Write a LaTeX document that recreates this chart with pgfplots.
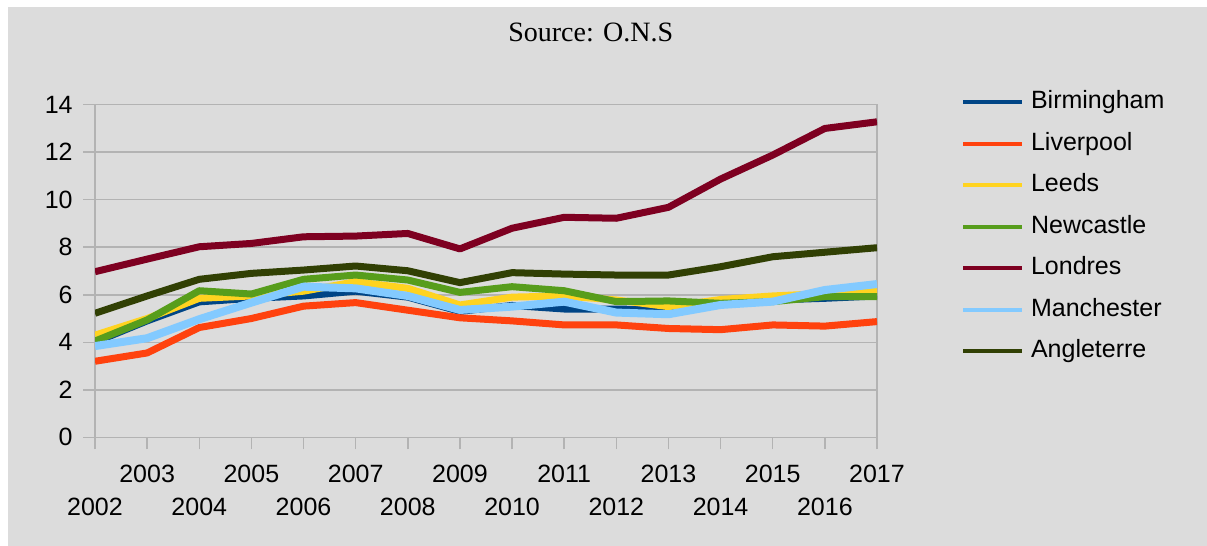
\documentclass[border=0pt]{standalone}
\usepackage{pgfplots}
\pgfplotsset{compat=1.18}
\usepackage{fontspec}
\setmainfont{Liberation Sans}
\newfontfamily\seriffont{Liberation Serif}
\definecolor{bg}{HTML}{DCDCDC}
\definecolor{gridc}{HTML}{B3B3B3}
\definecolor{cbir}{HTML}{004586}
\definecolor{cliv}{HTML}{FF420E}
\definecolor{clee}{HTML}{FFD320}
\definecolor{cnew}{HTML}{579D1C}
\definecolor{clon}{HTML}{7E0021}
\definecolor{cman}{HTML}{83CAFF}
\definecolor{cang}{HTML}{314004}
\begin{document}
\begin{tikzpicture}
\fill[white] (-47.5pt,-54.35pt) rectangle (556pt,218.65pt);
\fill[bg] (-43.5pt,-54.35pt) rectangle (556pt,215.15pt);
\begin{axis}[
  at={(0,0)}, anchor=south west,
  scale only axis, width=391pt, height=166.3pt,
  xmin=2002, xmax=2017, ymin=0, ymax=14,
  axis line style={gridc, line width=0.75pt},
  tick style={gridc, line width=0.75pt},
  tick align=outside, major tick length=6pt,
  xtick pos=lower, ytick pos=left,
  ytick={0,2,...,14},
  ymajorgrids, grid style={gridc, line width=0.75pt},
  xtick={2003,2005,2007,2009,2011,2013,2015,2017},
  xticklabels={2003,2005,2007,2009,2011,2013,2015,2017},
  extra x ticks={2002,2004,2006,2008,2010,2012,2014,2016},
  extra x tick labels={2002,2004,2006,2008,2010,2012,2014,2016},
  extra x tick style={xticklabel style={yshift=-16.5pt}},
  /pgf/number format/assume math mode=true,
  ticklabel style={font=\fontsize{12.5}{15}\selectfont},
  yticklabel style={inner sep=0pt, xshift=-5pt},
  xticklabel style={inner sep=0pt, yshift=-7.5pt},
  title={\seriffont\fontsize{14}{16}\selectfont Source: O.N.S},
  title style={at={(0.634,1.1825)}, anchor=center},
  legend style={at={(1.107,1.049)}, anchor=north west, draw=none, fill=none,
    inner sep=0pt, row sep=7.25pt, column sep=2.5pt,
    font=\fontsize{12.5}{15}\selectfont,
    nodes={text height=9pt, text depth=2.5pt, inner sep=1pt}},
  legend cell align=left,
  legend image code/.code={\draw[#1, line width=2pt] (0pt,0pt) -- (29.5pt,0pt);},
  every axis plot/.append style={line width=3.5pt, line join=round},
]
\addplot[cbir] coordinates {(2002,4.0)(2003,4.9)(2004,5.7)(2005,5.85)(2006,5.95)(2007,6.15)(2008,5.9)(2009,5.3)(2010,5.55)(2011,5.4)(2012,5.4)(2013,5.35)(2014,5.65)(2015,5.78)(2016,5.85)(2017,5.95)};
\addlegendentry{Birmingham}
\addplot[cliv] coordinates {(2002,3.2)(2003,3.55)(2004,4.62)(2005,5.0)(2006,5.52)(2007,5.67)(2008,5.35)(2009,5.03)(2010,4.9)(2011,4.73)(2012,4.73)(2013,4.58)(2014,4.53)(2015,4.73)(2016,4.68)(2017,4.87)};
\addlegendentry{Liverpool}
\addplot[clee] coordinates {(2002,4.3)(2003,5.0)(2004,5.85)(2005,5.95)(2006,6.15)(2007,6.55)(2008,6.27)(2009,5.57)(2010,5.9)(2011,5.95)(2012,5.78)(2013,5.5)(2014,5.8)(2015,5.95)(2016,6.05)(2017,6.16)};
\addlegendentry{Leeds}
\addplot[cnew] coordinates {(2002,4.05)(2003,4.94)(2004,6.17)(2005,6.03)(2006,6.65)(2007,6.83)(2008,6.62)(2009,6.1)(2010,6.34)(2011,6.17)(2012,5.71)(2013,5.74)(2014,5.64)(2015,5.71)(2016,5.92)(2017,5.92)};
\addlegendentry{Newcastle}
\addplot[clon] coordinates {(2002,6.97)(2003,7.5)(2004,8.02)(2005,8.16)(2006,8.44)(2007,8.47)(2008,8.58)(2009,7.93)(2010,8.8)(2011,9.26)(2012,9.22)(2013,9.68)(2014,10.87)(2015,11.88)(2016,13.0)(2017,13.28)};
\addlegendentry{Londres}
\addplot[cman, line width=4pt] coordinates {(2002,3.84)(2003,4.17)(2004,4.97)(2005,5.67)(2006,6.34)(2007,6.27)(2008,5.95)(2009,5.36)(2010,5.5)(2011,5.71)(2012,5.25)(2013,5.18)(2014,5.57)(2015,5.71)(2016,6.2)(2017,6.45)};
\addlegendentry{Manchester}
\addplot[cang] coordinates {(2002,5.22)(2003,5.95)(2004,6.65)(2005,6.9)(2006,7.04)(2007,7.21)(2008,7.01)(2009,6.51)(2010,6.93)(2011,6.87)(2012,6.83)(2013,6.83)(2014,7.18)(2015,7.6)(2016,7.79)(2017,7.98)};
\addlegendentry{Angleterre}
\end{axis}
\end{tikzpicture}
\end{document}
